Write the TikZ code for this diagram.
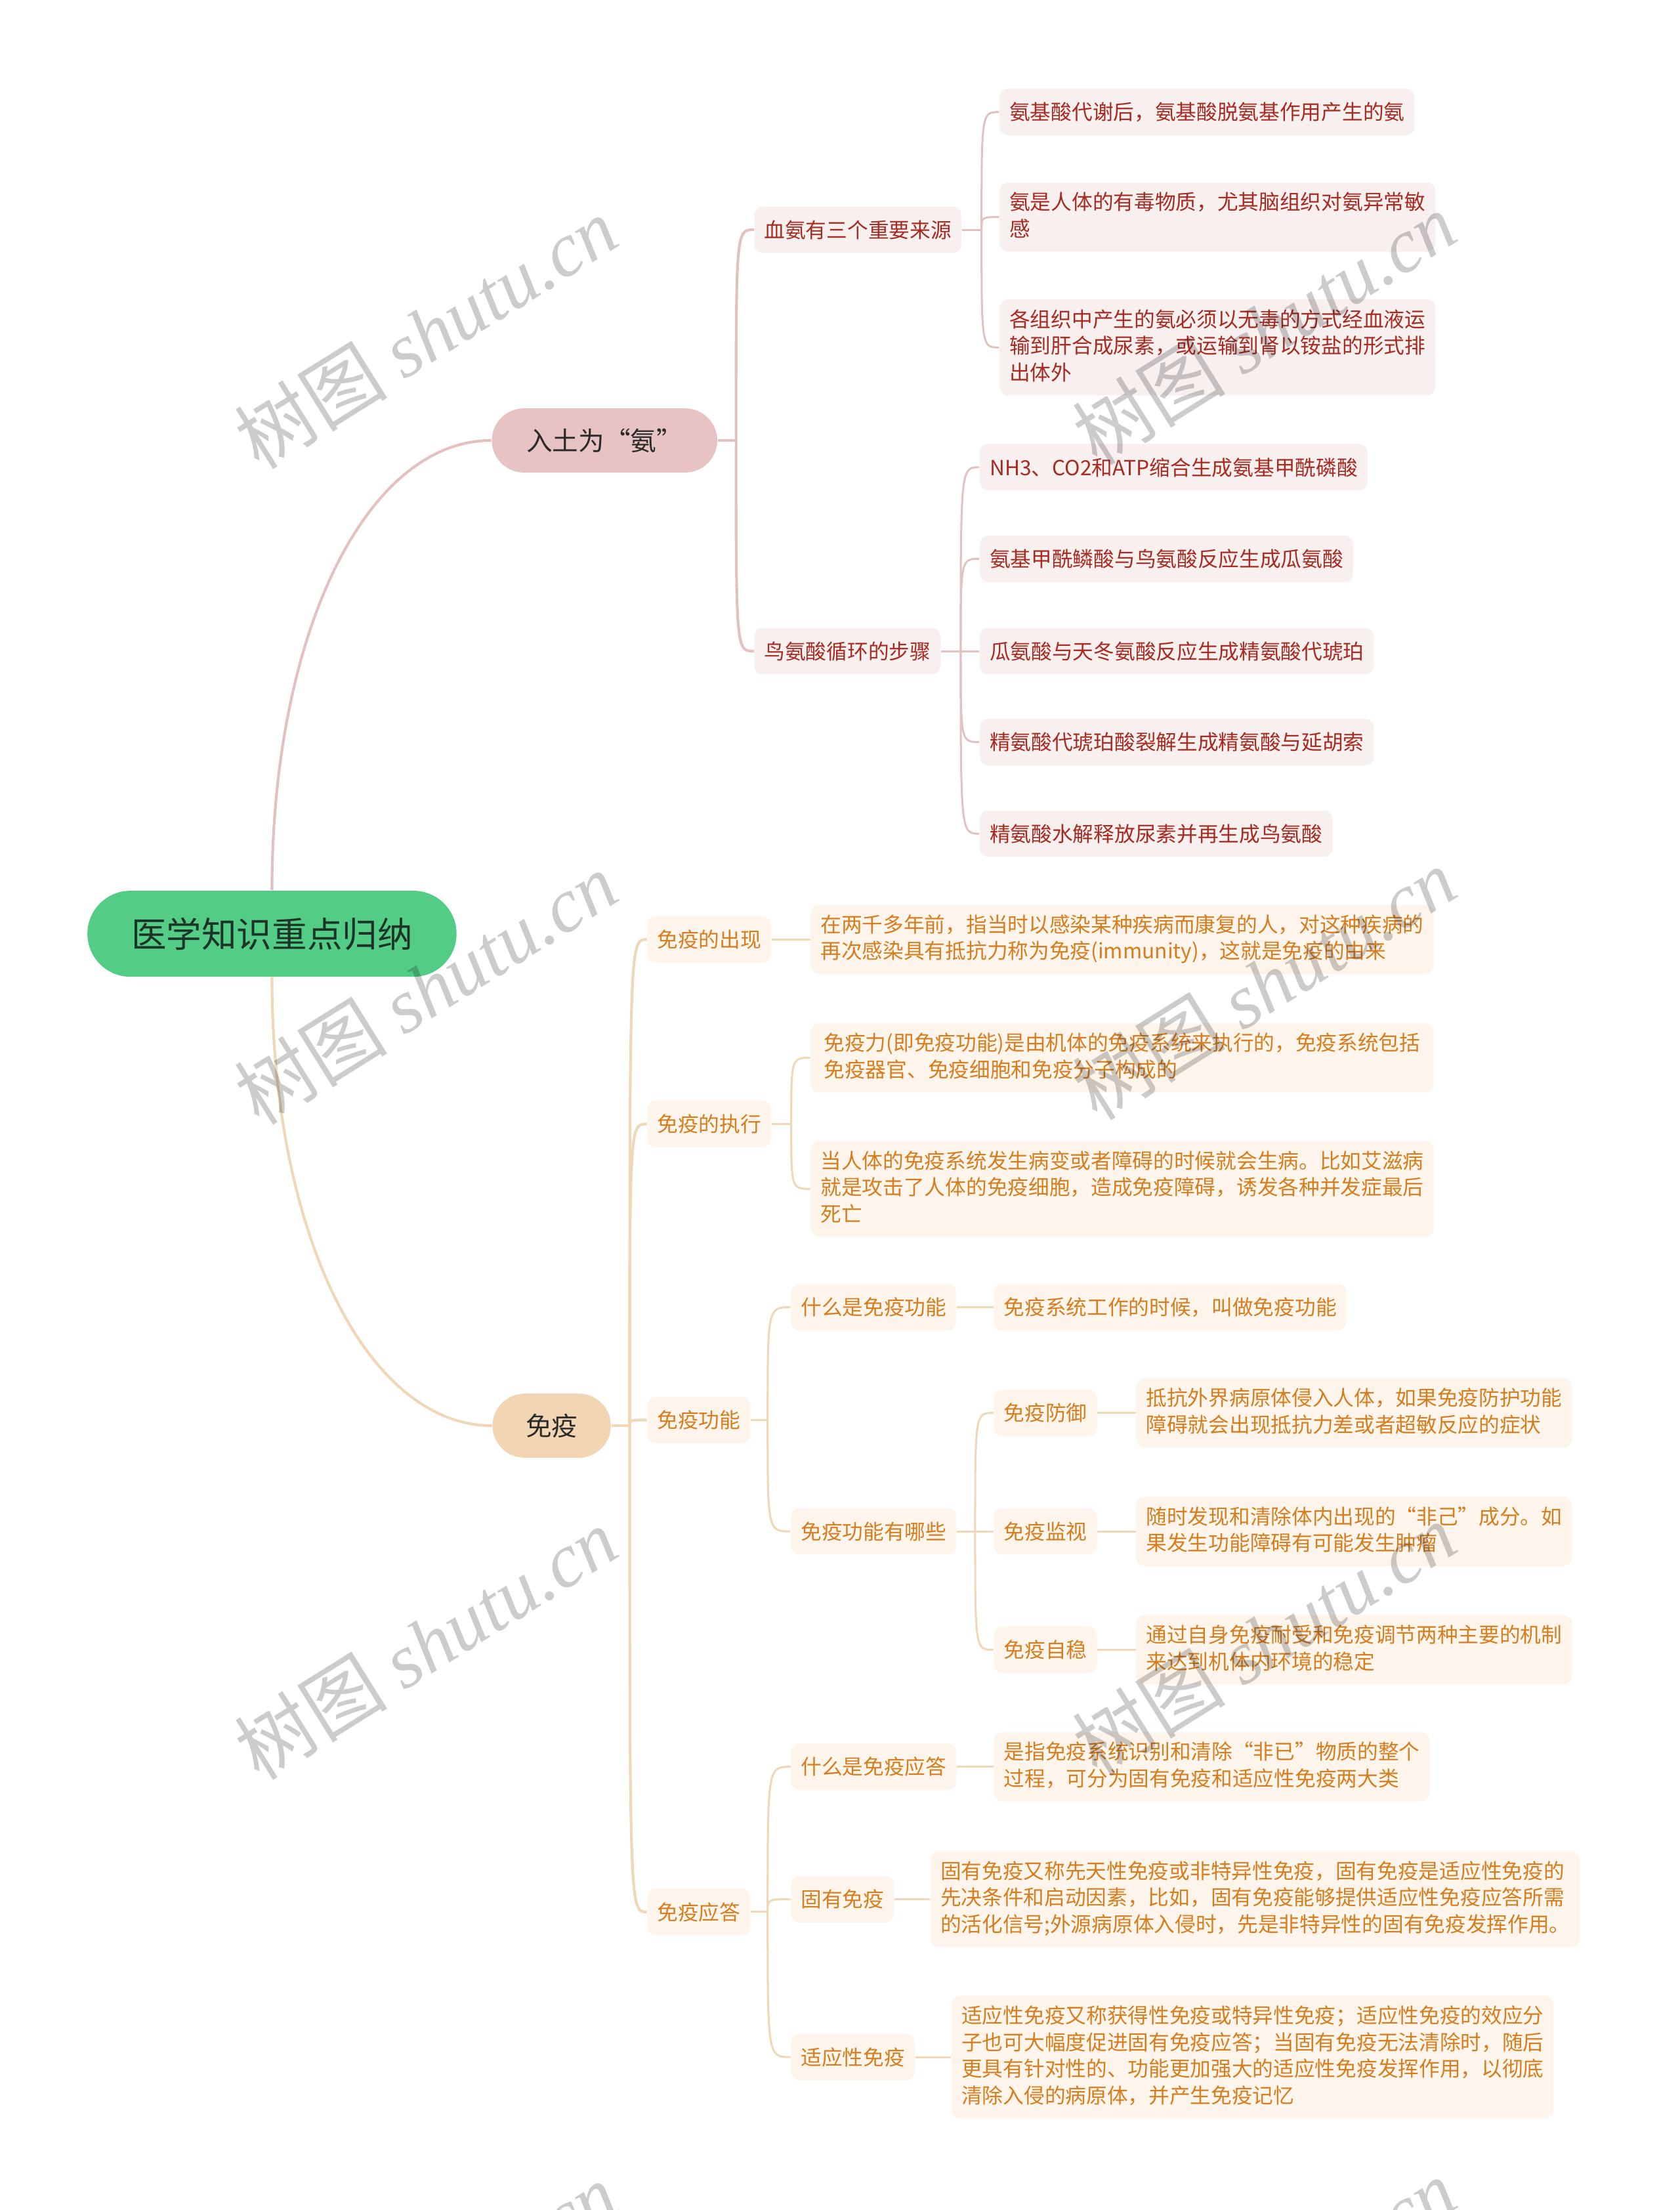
\documentclass[tikz,border=0pt]{standalone}
\usepackage{fontspec}
\setmainfont{Noto Sans CJK SC}
\newfontfamily\wmserif{Liberation Serif}
\usepackage{tikz}
\usetikzlibrary{calc}

\definecolor{cRootFill}{HTML}{53CC86}
\definecolor{cRootText}{HTML}{1E3327}
\definecolor{cMainText}{HTML}{2A2A2A}
\definecolor{cPinkPill}{HTML}{E7C3C3}
\definecolor{cPeachPill}{HTML}{F2D5B2}
\definecolor{cPinkFill}{HTML}{F8EFEF}
\definecolor{cPeachFill}{HTML}{FDF5EB}
\definecolor{cPinkText}{HTML}{A82B22}
\definecolor{cPeachText}{HTML}{D67E1F}
\definecolor{cPinkLine}{HTML}{E4C1C1}
\definecolor{cPeachLine}{HTML}{F0D7B8}

\newcommand{\boxstrut}{\vrule height0.8\baselineskip depth0.2\baselineskip width0pt\relax}

\tikzset{
    rootnode/.style={fill=cRootFill, text=cRootText, rounded corners=0.61cm, minimum width=5.24cm, minimum height=1.22cm, inner sep=0pt, font=\fontsize{14.2pt}{17pt}\selectfont},
    pillnode/.style={text=cMainText, minimum height=0.91cm, inner sep=0pt, rounded corners=0.455cm, font=\fontsize{10.5pt}{13pt}\selectfont},
    subbox/.style={anchor=west, align=left, rounded corners=0.12cm, inner xsep=0.14cm, inner ysep=0.14cm, font=\fontsize{8.4pt}{10.77pt}\selectfont, execute at begin node=\boxstrut, execute at end node=\boxstrut},
    pinkbox/.style={subbox, fill=cPinkFill, text=cPinkText},
    peachbox/.style={subbox, fill=cPeachFill, text=cPeachText},
    pinkmain/.style={draw=cPinkLine, line width=1.1pt},
    peachmain/.style={draw=cPeachLine, line width=1.1pt},
    pinkthin/.style={draw=cPinkLine, line width=0.8pt},
    peachthin/.style={draw=cPeachLine, line width=0.8pt},
    wmark/.style={rotate=32, text=black, opacity=0.2, font=\fontsize{31pt}{34pt}\selectfont}
}

\begin{document}
\begin{tikzpicture}[x=0.02cm, y=-0.02cm]
        \fill[white] (0,0) rectangle (1192,1568);
        \useasboundingbox (0,0) rectangle (1192,1568);

        \node[rootnode] (root) at (193,662.5) {医学知识重点归纳};
        \node[pillnode, fill=cPinkPill, minimum width=3.2cm] (ru) at (429,312.5) {入土为“氨”};
        \node[pillnode, fill=cPeachPill, minimum width=1.68cm] (my) at (391.5,1011.5) {免疫};

        \node[pinkbox] (xy) at (535,163) {血氨有三个重要来源};
        \node[pinkbox] (ni) at (535,462) {鸟氨酸循环的步骤};
        \node[pinkbox] (xa) at (709,79.5) {氨基酸代谢后，氨基酸脱氨基作用产生的氨};
        \node[pinkbox] (xb) at (709,154) {氨是人体的有毒物质，尤其脑组织对氨异常敏\\感};
        \node[pinkbox] (xc) at (709,246.5) {各组织中产生的氨必须以无毒的方式经血液运\\输到肝合成尿素，或运输到肾以铵盐的形式排\\出体外};
        \node[pinkbox] (na) at (695,331.5) {NH3、CO2和ATP缩合生成氨基甲酰磷酸};
        \node[pinkbox] (nb) at (695,396.5) {氨基甲酰鳞酸与鸟氨酸反应生成瓜氨酸};
        \node[pinkbox] (nc) at (695,462) {瓜氨酸与天冬氨酸反应生成精氨酸代琥珀};
        \node[pinkbox] (nd) at (695,526.5) {精氨酸代琥珀酸裂解生成精氨酸与延胡索};
        \node[pinkbox] (ne) at (695,591.5) {精氨酸水解释放尿素并再生成鸟氨酸};

        \node[peachbox] (cx) at (459,666.5) {免疫的出现};
        \node[peachbox] (zx) at (459,797.5) {免疫的执行};
        \node[peachbox] (gn) at (459,1007.5) {免疫功能};
        \node[peachbox] (yd) at (459,1356.5) {免疫应答};
        \node[peachbox] (cxa) at (575,666.5) {在两千多年前，指当时以感染某种疾病而康复的人，对这种疾病的\\再次感染具有抵抗力称为免疫(immunity)，这就是免疫的由来};
        \node[peachbox, minimum width=8.84cm] (zxa) at (575,750.5) {免疫力(即免疫功能)是由机体的免疫系统来执行的，免疫系统包括\\免疫器官、免疫细胞和免疫分子构成的};
        \node[peachbox] (zxb) at (575,843.5) {当人体的免疫系统发生病变或者障碍的时候就会生病。比如艾滋病\\就是攻击了人体的免疫细胞，造成免疫障碍，诱发各种并发症最后\\死亡};
        \node[peachbox] (gna) at (561,927.5) {什么是免疫功能};
        \node[peachbox] (gnb) at (561,1086.5) {免疫功能有哪些};
        \node[peachbox] (gnaa) at (705,927.5) {免疫系统工作的时候，叫做免疫功能};
        \node[peachbox] (fy) at (705,1002.5) {免疫防御};
        \node[peachbox] (js) at (705,1086.5) {免疫监视};
        \node[peachbox] (zw) at (705,1170.5) {免疫自稳};
        \node[peachbox] (fya) at (806,1002.5) {抵抗外界病原体侵入人体，如果免疫防护功能\\障碍就会出现抵抗力差或者超敏反应的症状};
        \node[peachbox] (jsa) at (806,1086.5) {随时发现和清除体内出现的“非己”成分。如\\果发生功能障碍有可能发生肿瘤};
        \node[peachbox] (zwa) at (806,1170.5) {通过自身免疫耐受和免疫调节两种主要的机制\\来达到机体内环境的稳定};
        \node[peachbox] (yda) at (561,1253.5) {什么是免疫应答};
        \node[peachbox] (ydb) at (561,1347.5) {固有免疫};
        \node[peachbox] (ydc) at (561,1459.5) {适应性免疫};
        \node[peachbox] (ydaa) at (705,1253.5) {是指免疫系统识别和清除“非已”物质的整个\\过程，可分为固有免疫和适应性免疫两大类};
        \node[peachbox] (ydba) at (660,1347.5) {固有免疫又称先天性免疫或非特异性免疫，固有免疫是适应性免疫的\\先决条件和启动因素，比如，固有免疫能够提供适应性免疫应答所需\\的活化信号;外源病原体入侵时，先是非特异性的固有免疫发挥作用。};
        \node[peachbox] (ydca) at (675,1459.5) {适应性免疫又称获得性免疫或特异性免疫；适应性免疫的效应分\\子也可大幅度促进固有免疫应答；当固有免疫无法清除时，随后\\更具有针对性的、功能更加强大的适应性免疫发挥作用，以彻底\\清除入侵的病原体，并产生免疫记忆};

        \draw[pinkmain] (root.north) .. controls ([yshift=3.64cm]root.north) and ([xshift=-1.78cm]ru.west) .. (ru.west);
        \draw[peachmain] (root.south) .. controls ([yshift=-3.64cm]root.south) and ([xshift=-1.78cm]my.west) .. (my.west);

        \coordinate (jru) at ([xshift=0.26cm]ru.east);
        \draw[pinkmain] (ru.east) -- (jru);
        \draw[pinkmain] (jru) .. controls (jru |- xy.west) .. (xy.west);
        \draw[pinkmain] (jru) .. controls (jru |- ni.west) .. (ni.west);
        \coordinate (jxy) at ([xshift=0.28cm]xy.east);
        \draw[pinkthin] (xy.east) -- (jxy);
        \draw[pinkthin] (jxy) .. controls (jxy |- xa.west) .. (xa.west);
        \draw[pinkthin] (jxy) .. controls (jxy |- xb.west) .. (xb.west);
        \draw[pinkthin] (jxy) .. controls (jxy |- xc.west) .. (xc.west);
        \coordinate (jni) at ([xshift=0.28cm]ni.east);
        \draw[pinkthin] (ni.east) -- (jni);
        \draw[pinkthin] (jni) .. controls (jni |- na.west) .. (na.west);
        \draw[pinkthin] (jni) .. controls (jni |- nb.west) .. (nb.west);
        \draw[pinkthin] (jni) -- (nc.west);
        \draw[pinkthin] (jni) .. controls (jni |- nd.west) .. (nd.west);
        \draw[pinkthin] (jni) .. controls (jni |- ne.west) .. (ne.west);

        \coordinate (jmy) at ([xshift=0.26cm]my.east);
        \draw[peachmain] (my.east) -- (jmy);
        \draw[peachmain] (jmy) .. controls (jmy |- cx.west) .. (cx.west);
        \draw[peachmain] (jmy) .. controls (jmy |- zx.west) .. (zx.west);
        \draw[peachmain] (jmy) .. controls (jmy |- gn.west) .. (gn.west);
        \draw[peachmain] (jmy) .. controls (jmy |- yd.west) .. (yd.west);
        \draw[peachthin] (cx.east) -- (cxa.west);
        \coordinate (jzx) at ([xshift=0.28cm]zx.east);
        \draw[peachthin] (zx.east) -- (jzx);
        \draw[peachthin] (jzx) .. controls (jzx |- zxa.west) .. (zxa.west);
        \draw[peachthin] (jzx) .. controls (jzx |- zxb.west) .. (zxb.west);
        \coordinate (jgn) at ([xshift=0.24cm]gn.east);
        \draw[peachthin] (gn.east) -- (jgn);
        \draw[peachthin] (jgn) .. controls (jgn |- gna.west) .. (gna.west);
        \draw[peachthin] (jgn) .. controls (jgn |- gnb.west) .. (gnb.west);
        \draw[peachthin] (gna.east) -- (gnaa.west);
        \coordinate (jgnb) at ([xshift=0.26cm]gnb.east);
        \draw[peachthin] (gnb.east) -- (jgnb);
        \draw[peachthin] (jgnb) .. controls (jgnb |- fy.west) .. (fy.west);
        \draw[peachthin] (jgnb) -- (js.west);
        \draw[peachthin] (jgnb) .. controls (jgnb |- zw.west) .. (zw.west);
        \draw[peachthin] (fy.east) -- (fya.west);
        \draw[peachthin] (js.east) -- (jsa.west);
        \draw[peachthin] (zw.east) -- (zwa.west);
        \coordinate (jyd) at ([xshift=0.24cm]yd.east);
        \draw[peachthin] (yd.east) -- (jyd);
        \draw[peachthin] (jyd) .. controls (jyd |- yda.west) .. (yda.west);
        \draw[peachthin] (jyd) .. controls (jyd |- ydb.west) .. (ydb.west);
        \draw[peachthin] (jyd) .. controls (jyd |- ydc.west) .. (ydc.west);
        \draw[peachthin] (yda.east) -- (ydaa.west);
        \draw[peachthin] (ydb.east) -- (ydba.west);
        \draw[peachthin] (ydc.east) -- (ydca.west);

        \node[wmark] (wm1) at (302,236) {树图 {\wmserif\itshape shutu.cn}};
        \node[wmark] (wm2) at (897,233) {树图 {\wmserif\itshape shutu.cn}};
        \node[wmark] (wm3) at (302,701) {树图 {\wmserif\itshape shutu.cn}};
        \node[wmark] (wm4) at (897,698) {树图 {\wmserif\itshape shutu.cn}};
        \node[wmark] (wm5) at (302,1166) {树图 {\wmserif\itshape shutu.cn}};
        \node[wmark] (wm6) at (897,1163) {树图 {\wmserif\itshape shutu.cn}};
        \node[wmark] (wm7) at (302,1631) {树图 {\wmserif\itshape shutu.cn}};
        \node[wmark] (wm8) at (897,1628) {树图 {\wmserif\itshape shutu.cn}};
\end{tikzpicture}
\end{document}
